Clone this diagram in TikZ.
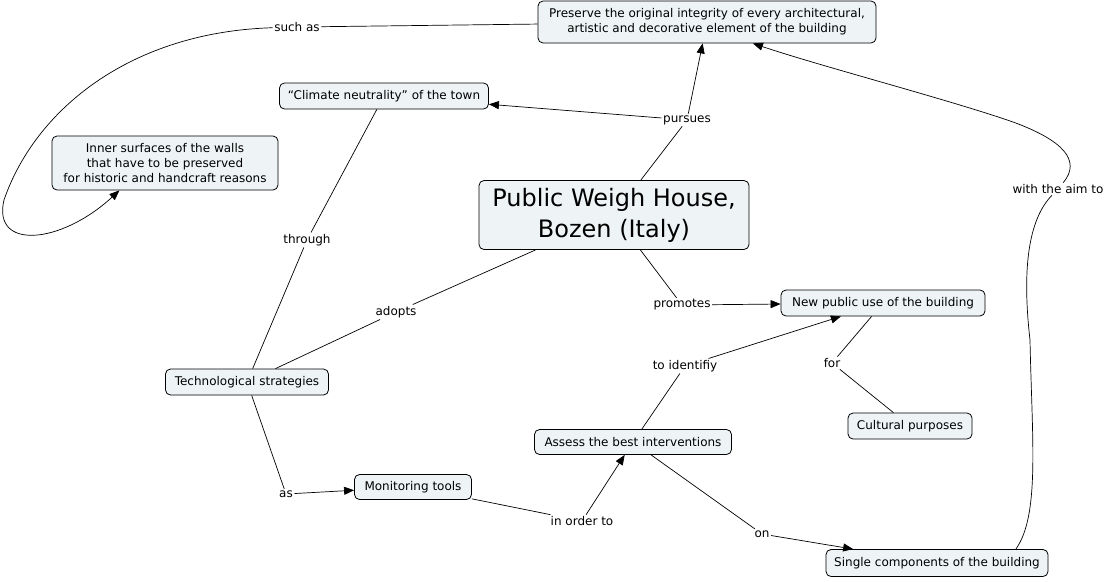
\documentclass[tikz,border=0pt]{standalone}
\usepackage{fontspec}
\setmainfont{DejaVu Sans}
\usetikzlibrary{arrows.meta}
\definecolor{boxfill}{HTML}{EEF4F6}

\begin{document}
\begin{tikzpicture}[
    x=1pt, y=-1pt,
    concept/.style={draw, rounded corners=5pt, fill=boxfill, line width=0.8pt, align=center, inner sep=0pt, font=\fontsize{12}{15}\selectfont}, % Begriffe
    link/.style={inner sep=1.5pt, font=\fontsize{12}{14}\selectfont}, % Verbindungswörter
    conn/.style={draw, line width=0.7pt},
    arr/.style={conn, -{Triangle[length=10pt,width=8pt]}}
    ]
\path[fill=white] (0,0) rectangle (1108,581);
\useasboundingbox (0,0) rectangle (1108,581);

% Begriffe
\node[concept, minimum width=338pt, minimum height=42pt] (preserve) at (707,22) {Preserve the original integrity of every architectural,\\artistic and decorative element of the building};
\node[concept, minimum width=209pt, minimum height=26pt] (climate) at (384,96) {“Climate neutrality” of the town};
\node[concept, minimum width=226pt, minimum height=54pt] (inner) at (165,163) {Inner surfaces of the walls\\that have to be preserved\\for historic and handcraft reasons};
\node[concept, minimum width=270pt, minimum height=69pt, font=\fontsize{24}{31}\selectfont] (house) at (614,215) {Public Weigh House,\\Bozen (Italy)};
\node[concept, minimum width=204pt, minimum height=26pt] (newuse) at (883,303) {New public use of the building};
\node[concept, minimum width=163pt, minimum height=26pt] (tech) at (247,382) {Technological strategies};
\node[concept, minimum width=124pt, minimum height=26pt] (cultural) at (910,426) {Cultural purposes};
\node[concept, minimum width=197pt, minimum height=25pt] (assess) at (633,442) {Assess the best interventions};
\node[concept, minimum width=117pt, minimum height=25pt] (monitor) at (413,487) {Monitoring tools};
\node[concept, minimum width=222pt, minimum height=27pt] (single) at (937,563) {Single components of the building};

% Verbindungswörter
\node[link] (such) at (297,27) {such as};
\node[link] (pursues) at (687,120) {pursues};
\node[link] (through) at (307,240) {through};
\node[link] (aim) at (1058,189) {with the aim to};
\node[link] (adopts) at (396,312) {adopts};
\node[link] (promotes) at (682,305) {promotes};
\node[link] (identify) at (685,366) {to identifiy};
\node[link] (for) at (832,363) {for};
\node[link] (as) at (286,494) {as};
\node[link] (inorder) at (582,521) {in order to};
\node[link] (on) at (762,534) {on};

% Verbindungen
\draw[conn] (house) -- (pursues);
\draw[arr] (pursues) -- (preserve);
\draw[arr] (pursues) -- (climate);
\draw[conn] (preserve) -- (such);
\draw[arr] (such) .. controls (130,32) and (35,110) .. (4,200)
    .. controls (-8,250) and (60,245) .. (inner.211);
\draw[conn] (climate) -- (through);
\draw[conn] (through) -- (tech);
\draw[conn] (house) -- (adopts);
\draw[conn] (adopts) -- (tech);
\draw[conn] (house) -- (promotes);
\draw[arr] (promotes) -- (newuse);
\draw[conn] (tech) -- (as);
\draw[arr] (as) -- (monitor);
\draw[conn] (monitor) -- (inorder);
\draw[arr] (inorder) -- (assess);
\draw[conn] (assess) -- (identify);
\draw[arr] (identify) -- (newuse);
\draw[conn] (assess) -- (on);
\draw[arr] (on) -- (single);
\draw[conn] (newuse) -- (for);
\draw[conn] (for) -- (cultural);
\draw[conn] (single.10) .. controls (1040,515) and (1032,440) .. (1030,340)
    .. controls (1022,270) and (1028,220) .. (aim);
\draw[arr] (aim) .. controls (1082,160) and (1062,140) .. (1013,122)
    .. controls (950,100) and (820,66) .. (preserve.335);
\end{tikzpicture}
\end{document}
